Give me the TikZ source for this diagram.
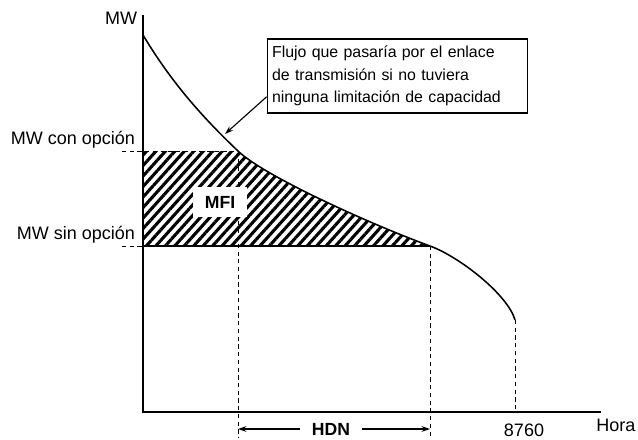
\documentclass[tikz,border=0pt]{standalone}
\usepackage{fontspec}
\setmainfont{Liberation Sans}
\usetikzlibrary{positioning,arrows.meta,patterns.meta}

\begin{document}
\begin{tikzpicture}[x=0.025cm,y=-0.025cm,>={Stealth[length=6pt,width=4pt]},line width=0.8pt,
    label node/.style={font=\fontsize{12.8}{15}\selectfont,inner sep=1pt},
    bold node/.style={font=\fontsize{12.5}{15}\selectfont\bfseries},
    note node/.style={draw,font=\fontsize{11.3}{16}\selectfont,align=left,text width=6.27cm,inner xsep=3.5pt,minimum height=1.85cm},
    guide/.style={line width=0.7pt,dash pattern=on 3pt off 2.5pt},
    hatch/.style={pattern={Lines[angle=48,distance=5pt,line width=2.2pt]}}]
    \useasboundingbox (0,0) rectangle (638,440);

    % axes
    \coordinate (top) at (143,15);
    \coordinate (o) at (143,412);
    \coordinate (end) at (601,412);
    \draw (top) -- (o) -- (end);

    % hatched area under the curve
    \begin{scope}
        \clip (143,151) rectangle (430,246);
        \fill[hatch] (143,35) .. controls (170,80) and (200,115) .. (238,151)
            .. controls (264,176) and (370,224) .. (430,246)
            .. controls (460,257) and (508,295) .. (515,320) -- (515,412) -- (143,412) -- cycle;
    \end{scope}

    % duration curve
    \draw[line width=1.1pt] (143,35) .. controls (170,80) and (200,115) .. (238,151)
        .. controls (264,176) and (370,224) .. (430,246)
        .. controls (460,257) and (508,295) .. (515,320);

    \coordinate (conL) at (122,151);
    \coordinate (conR) at (238,151);
    \coordinate (sinL) at (122,246);
    \coordinate (sinO) at (143,246);
    \coordinate (sinR) at (430,246);
    \coordinate (endC) at (515,320);
    \coordinate (endA) at (515,412);
    \coordinate (hdnA) at (238,438);
    \coordinate (hdnB) at (430,438);

    \draw[guide] (conL) -- (conR);
    \draw[guide] (sinL) -- (sinO);
    \draw (sinO) -- (sinR);
    \draw[guide] (conR) -- (hdnA);
    \draw[guide] (sinR) -- (hdnB);
    \draw[guide] (endC) -- (endA);

    % labels
    \node[label node] (mw) at (121,18) {MW};
    \node[label node,anchor=east] (con) at (137,140) {MW con opción};
    \node[label node,anchor=east] (sin) at (137,235) {MW sin opción};
    \node[label node,anchor=east,inner sep=0pt] (hora) at (636,425) {Hora};
    \node[label node,inner sep=0pt] (year) at (524,430) {8760};

    \node[bold node,fill=white,minimum width=1.35cm,minimum height=0.75cm] (mfi) at (220,202) {MFI};

    \node[bold node,inner xsep=8pt,inner ysep=1pt] (hdn) at (331,429) {HDN};
    \coordinate (hdnL) at (238,429);
    \coordinate (hdnR) at (430,429);
    \draw[->] (hdn) -- (hdnL);
    \draw[->] (hdn) -- (hdnR);

    \node[note node] (note) at (397.5,76) {Flujo que pasaría por el enlace\\de transmisión si no tuviera\\ninguna limitación de capacidad};
    \coordinate (flow) at (225,134);
    \draw[->] ([yshift=-0.52cm]note.west) -- (flow);
\end{tikzpicture}
\end{document}
